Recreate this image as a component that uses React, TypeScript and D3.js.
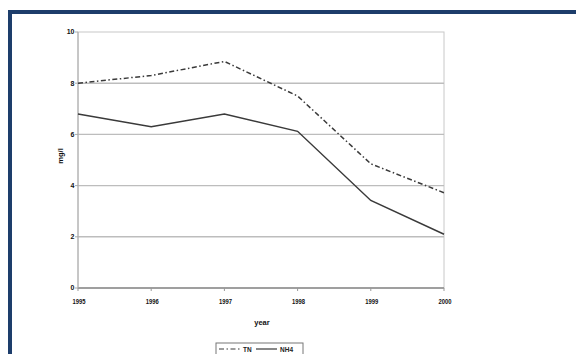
import React from "react";
import * as d3 from "d3";

const years = ["1995", "1996", "1997", "1998", "1999", "2000"];
const tnValues = [8.0, 8.3, 8.85, 7.5, 4.85, 3.72];
const nh4Values = [6.8, 6.3, 6.8, 6.12, 3.42, 2.1];
const yTicks = [0, 2, 4, 6, 8, 10];
const seriesNames = ["TN", "NH4"];

const W = 576;
const H = 354;
const plot = { left: 78, right: 444, top: 32, bottom: 288 };

export default function App() {
  const x = d3.scalePoint<string>().domain(years).range([plot.left, plot.right]);
  const y = d3.scaleLinear().domain([0, 10]).range([plot.bottom, plot.top]);
  const line = d3
    .line<number>()
    .x((_, i) => x(years[i]) as number)
    .y((v) => y(v));

  const font = "'Liberation Sans', Arial, sans-serif";
  const ink = "#3a3a3a";

  return (
    <svg
      width={W}
      height={H}
      style={{ position: "absolute", left: 0, top: 0, background: "#fff" }}
    >
      {/* frame */}
      <rect x={0} y={0} width={W} height={H} fill="#fff" />
      <path d={`M10,${H} V12 H${W}`} fill="none" stroke="#1d3d6b" strokeWidth={4} />

      {/* plot area */}
      <rect
        x={plot.left}
        y={plot.top}
        width={plot.right - plot.left}
        height={plot.bottom - plot.top}
        fill="#fff"
        stroke="#c8c8c8"
        strokeWidth={1}
      />
      {yTicks.slice(1, -1).map((t) => (
        <line
          key={t}
          x1={plot.left}
          x2={plot.right}
          y1={y(t)}
          y2={y(t)}
          stroke="#bdbdbd"
          strokeWidth={1.4}
        />
      ))}

      {/* axes */}
      <line x1={plot.left} x2={plot.right} y1={plot.bottom} y2={plot.bottom} stroke="#888" strokeWidth={1.3} />
      <line x1={plot.left} x2={plot.left} y1={plot.top} y2={plot.bottom} stroke="#aaa" strokeWidth={1} />
      {yTicks.map((t) => (
        <g key={t}>
          <line x1={plot.left - 3} x2={plot.left} y1={y(t)} y2={y(t)} stroke="#aaa" />
          <text
            x={plot.left - 3.5}
            y={y(t)}
            dy="0.35em"
            textAnchor="end"
            fontFamily={font}
            fontWeight="bold"
            fontSize={7}
            fill="#111"
          >
            {t}
          </text>
        </g>
      ))}
      {years.map((yr) => (
        <g key={yr}>
          <line
            x1={x(yr) as number}
            x2={x(yr) as number}
            y1={plot.bottom}
            y2={plot.bottom + 3}
            stroke="#999"
          />
          <text
            x={(x(yr) as number) + 1}
            y={plot.bottom + 15.5}
            textAnchor="middle"
            fontFamily={font}
            fontWeight="bold"
            fontSize={6.8}
            fill="#111"
            textLength={13}
            lengthAdjust="spacingAndGlyphs"
          >
            {yr}
          </text>
        </g>
      ))}

      {/* axis titles */}
      <text
        x={262}
        y={325}
        textAnchor="middle"
        fontFamily={font}
        fontWeight="bold"
        fontSize={7.5}
        fill="#111"
      >
        year
      </text>
      <text
        transform="translate(63,156) rotate(-90)"
        textAnchor="middle"
        fontFamily={font}
        fontWeight="bold"
        fontSize={7.5}
        fill="#111"
      >
        mg/l
      </text>

      {/* series */}
      <path
        d={line(tnValues) ?? ""}
        fill="none"
        stroke={ink}
        strokeWidth={1.5}
        strokeDasharray="5,2.5,1.5,2.5"
      />
      <path d={line(nh4Values) ?? ""} fill="none" stroke={ink} strokeWidth={1.5} />

      {/* legend */}
      <rect x={216} y={343} width={87} height={16} fill="#fff" stroke="#777" strokeWidth={1} />
      <line
        x1={219}
        x2={240}
        y1={349}
        y2={349}
        stroke={ink}
        strokeWidth={1.2}
        strokeDasharray="5,2.5,1.5,2.5"
      />
      <text x={243} y={351.5} fontFamily={font} fontWeight="bold" fontSize={6.5} fill="#222">
        {seriesNames[0]}
      </text>
      <line x1={256} x2={277} y1={349} y2={349} stroke={ink} strokeWidth={1.2} />
      <text x={280} y={351.5} fontFamily={font} fontWeight="bold" fontSize={6.5} fill="#222">
        {seriesNames[1]}
      </text>
    </svg>
  );
}
